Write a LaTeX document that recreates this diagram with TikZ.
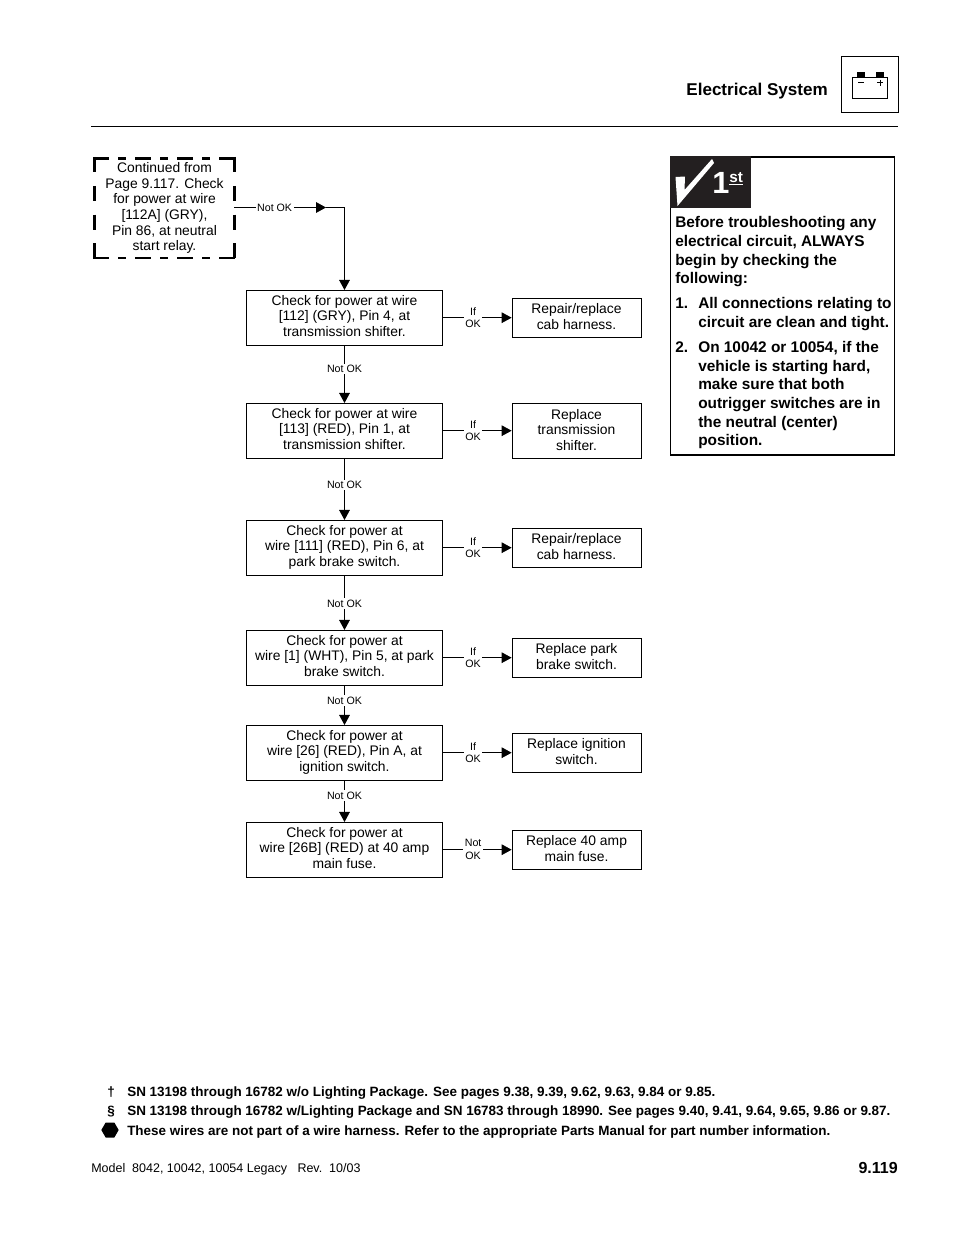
\documentclass[tikz,border=0pt]{standalone}
\usepackage{fontspec}
\setmainfont{Liberation Sans}
\usepackage{xcolor}
\usepackage{tikz}
\usetikzlibrary{shapes.geometric, arrows.meta}
\tikzstyle{checkbox} = [rectangle, minimum width=147pt, minimum height=41pt, inner sep=0pt, text depth=3pt, align=center, draw=black, line width=0.6pt, font=\fontsize{10.4}{11.75}\selectfont]
\tikzstyle{fixbox} = [rectangle, minimum width=96.75pt, minimum height=29.25pt, inner sep=0pt, text depth=1.5pt, align=center, draw=black, line width=0.6pt, font=\fontsize{10.4}{11.75}\selectfont]
\tikzstyle{startbox} = [rectangle, minimum width=104.25pt, minimum height=74.25pt, inner sep=0pt, align=center, font=\fontsize{10.4}{11.75}\selectfont]
\tikzstyle{tag} = [fill=white, inner sep=1.2pt, align=center, font=\fontsize{8}{9.6}\selectfont]
\tikzstyle{arrow} = [line width=0.6pt, -{Triangle[length=7.5pt,width=8pt]}]
\tikzstyle{link} = [line width=0.6pt, -]
\tikzstyle{dashflat} = [line width=1.9pt, dash pattern=on 12pt off 6.7pt on 6pt off 6.7pt, shorten <=-0.95pt, shorten >=-0.95pt]
\tikzstyle{dashtall} = [line width=1.9pt, dash pattern=on 11.25pt off 10.37pt, shorten <=-0.95pt, shorten >=-0.95pt]
\tikzstyle{notetext} = [anchor=base west, inner sep=0pt, font=\fontsize{11.55}{14}\bfseries\selectfont]
\tikzstyle{foottext} = [anchor=base west, inner sep=0pt, font=\fontsize{10.1}{12}\bfseries\selectfont]
\definecolor{tabblack}{HTML}{231F20}
\begin{document}
\begin{tikzpicture}[x=0.75pt, y=-0.75pt, node distance=75pt]
\useasboundingbox (0,0) rectangle (954,1235);
% header
\node (title) [anchor=base east, inner sep=0pt, font=\fontsize{12.8}{15}\bfseries\selectfont] at (828,95) {Electrical System};
\draw [line width=0.6pt] (841.5,56.5) rectangle (898,112.5);
\fill (857,72) rectangle (865,77);
\fill (876,72) rectangle (884,77);
\draw [line width=0.45pt] (852.5,99) -- (852.5,77) -- (887.5,77) -- (887.5,99);
\draw [line width=1.2pt] (852,98.5) -- (888,98.5);
\draw [line width=0.45pt] (858,82.5) -- (864,82.5) (877,82.5) -- (883,82.5) (880,79.5) -- (880,85.5);
\draw [line width=0.75pt] (91,126.5) -- (898,126.5);
% flow
\node (start) [startbox] at (164.5,208) {Continued from\\Page 9.117. Check\\for power at wire\\{}[112A] (GRY),\\Pin 86, at neutral\\start relay.};
\draw [dashflat] (start.north west) -- (start.north east);
\draw [dashflat] (start.south west) -- (start.south east);
\draw [dashtall] (start.north west) -- (start.south west);
\draw [dashtall] (start.north east) -- (start.south east);
\node (check1) [checkbox] at (344.5,317.7) {Check for power at wire\\{}[112] (GRY), Pin 4, at\\transmission shifter.};
\node (check2) [checkbox, below of=check1, yshift=-9.75pt] {Check for power at wire\\{}[113] (RED), Pin 1, at\\transmission shifter.};
\node (check3) [checkbox, below of=check2, yshift=-12.75pt] {Check for power at\\wire [111] (RED), Pin 6, at\\park brake switch.};
\node (check4) [checkbox, below of=check3, yshift=-7.5pt] {Check for power at\\wire [1] (WHT), Pin 5, at park\\brake switch.};
\node (check5) [checkbox, below of=check4, yshift=3.75pt] {Check for power at\\wire [26] (RED), Pin A, at\\ignition switch.};
\node (check6) [checkbox, below of=check5, yshift=2.25pt] {Check for power at\\wire [26B] (RED) at 40 amp\\main fuse.};
\node (fix1) [fixbox, right of=check1, xshift=99pt] {Repair/replace\\cab harness.};
\node (fix2) [fixbox, right of=check2, xshift=99pt, minimum height=41pt] {Replace\\transmission\\shifter.};
\node (fix3) [fixbox, right of=check3, xshift=99pt] {Repair/replace\\cab harness.};
\node (fix4) [fixbox, right of=check4, xshift=99pt] {Replace park\\brake switch.};
\node (fix5) [fixbox, right of=check5, xshift=99pt] {Replace ignition\\switch.};
\node (fix6) [fixbox, right of=check6, xshift=99pt] {Replace 40 amp\\main fuse.};
\coordinate (bend) at (344.5,207.5);
\coordinate (midtip) at (326,207.5);
\draw [arrow] (start.east |- bend) -- node [tag, pos=0.44] {Not OK} (midtip);
\draw [link] (midtip) -- (bend);
\draw [arrow] (bend) -- (check1);
\draw [arrow] (check1) -- node [tag, pos=0.41] {Not OK} (check2);
\draw [arrow] (check2) -- node [tag, pos=0.43] {Not OK} (check3);
\draw [arrow] (check3) -- node [tag, pos=0.52] {Not OK} (check4);
\draw [arrow] (check4) -- node [tag, pos=0.38] {Not OK} (check5);
\draw [arrow] (check5) -- node [tag, pos=0.36] {Not OK} (check6);
\draw [arrow] (check1) -- node [tag, pos=0.44] {If\\OK} (fix1);
\draw [arrow] (check2) -- node [tag, pos=0.44] {If\\OK} (fix2);
\draw [arrow] (check3) -- node [tag, pos=0.44] {If\\OK} (fix3);
\draw [arrow] (check4) -- node [tag, pos=0.44] {If\\OK} (fix4);
\draw [arrow] (check5) -- node [tag, pos=0.44] {If\\OK} (fix5);
\draw [arrow] (check6) -- node [tag, pos=0.44] {Not\\OK} (fix6);
% box on the right
\draw [line width=0.9pt] (670.5,156.5) rectangle (894.5,455);
\draw [line width=1.5pt] (670,156.5) -- (895,156.5);
\fill [tabblack] (670,156) rectangle (751,208);
\fill [white] (675.5,177) -- (685,176.5) -- (684.5,190) -- (712,159) -- (714,163) -- (677.5,206) -- cycle;
\node (one) [anchor=base west, inner sep=0pt, text=white, font=\fontsize{23}{23}\bfseries\selectfont] at (712,193) {1};
\node (st) [anchor=base west, inner sep=0pt, text=white, font=\fontsize{11.5}{11.5}\bfseries\selectfont] at (729,182) {st};
\draw [white, line width=0.9pt] (729,184.5) -- (743,184.5);
\node (note1) [notetext] at (675,227) {Before troubleshooting any};
\node (note2) [notetext] at (675,246) {electrical circuit, ALWAYS};
\node (note3) [notetext] at (675,265) {begin by checking the};
\node (note4) [notetext] at (675,283) {following:};
\node (num1) [notetext] at (675,308) {1.};
\node (item1a) [notetext] at (698,308) {All connections relating to};
\node (item1b) [notetext] at (698,327) {circuit are clean and tight.};
\node (num2) [notetext] at (675,352) {2.};
\node (item2a) [notetext] at (698,352) {On 10042 or 10054, if the};
\node (item2b) [notetext] at (698,371) {vehicle is starting hard,};
\node (item2c) [notetext] at (698,389) {make sure that both};
\node (item2d) [notetext] at (698,408) {outrigger switches are in};
\node (item2e) [notetext] at (698,427) {the neutral (center)};
\node (item2f) [notetext] at (698,445) {position.};
% foot of page
\node (dag) [foottext] at (107,1096.5) {†};
\node (foot1) [foottext] at (127,1096.5) {SN 13198 through 16782 w/o Lighting Package. See pages 9.38, 9.39, 9.62, 9.63, 9.84 or 9.85.};
\node (sec) [foottext] at (107,1115) {§};
\node (foot2) [foottext] at (127,1115) {SN 13198 through 16782 w/Lighting Package and SN 16783 through 18990. See pages 9.40, 9.41, 9.64, 9.65, 9.86 or 9.87.};
\node (hex) [regular polygon, regular polygon sides=6, fill=black, inner sep=0pt, minimum size=13pt] at (110,1130) {};
\node (foot3) [foottext] at (127,1135) {These wires are not part of a wire harness. Refer to the appropriate Parts Manual for part number information.};
\node (model) [anchor=base west, inner sep=0pt, font=\fontsize{9.37}{11}\selectfont] at (91,1172) {Model\ \ 8042, 10042, 10054 Legacy\ \ \ Rev.\ \ 10/03};
\node (page) [anchor=base east, inner sep=0pt, font=\fontsize{12}{14}\bfseries\selectfont] at (898,1173) {9.119};
\end{tikzpicture}
\end{document}
